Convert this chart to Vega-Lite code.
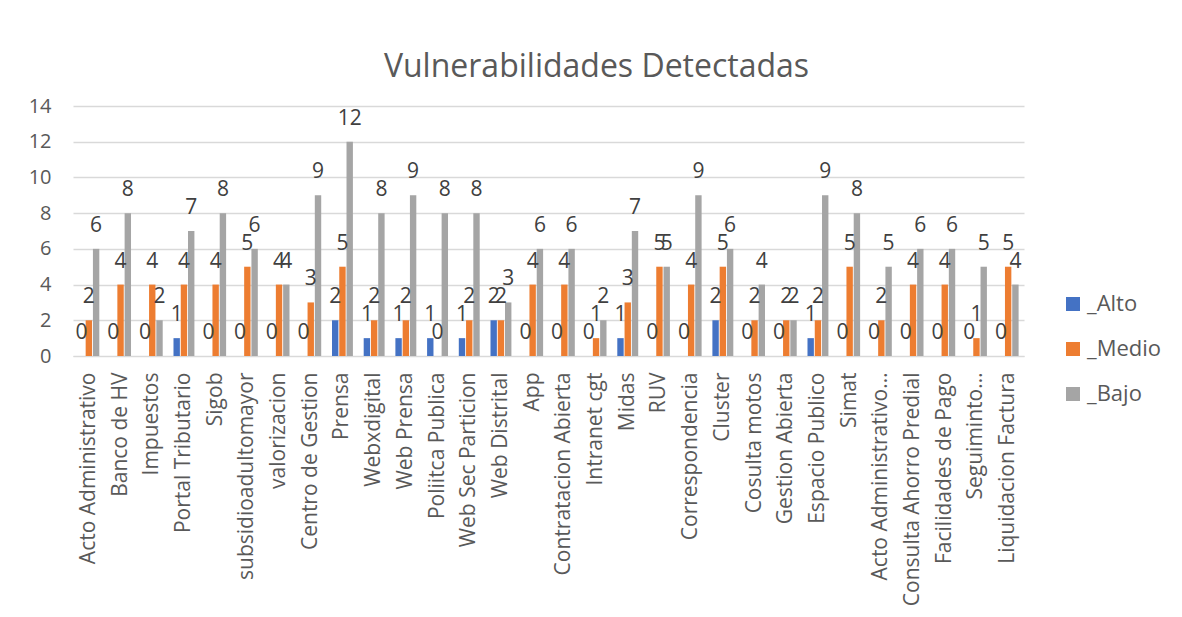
{
  "$schema": "https://vega.github.io/schema/vega-lite/v6.json",
  "width": 951,
  "height": 250,
  "autosize": {"type": "none"},
  "padding": {"left": 73, "top": 106, "right": 158, "bottom": 261},
  "background": "white",
  "title": {
    "text": "Vulnerabilidades Detectadas",
    "anchor": "middle",
    "fontSize": 32,
    "font": "Open Sans",
    "fontWeight": "normal",
    "color": "#595959",
    "offset": 12,
    "dx": 48
  },
  "config": {
    "view": {"stroke": null},
    "font": "Open Sans"
  },
  "datasets": {
    "raw": [
      {"name": "Acto Administrativo", "Alto": 0, "Medio": 2, "Bajo": 6},
      {"name": "Banco de HV", "Alto": 0, "Medio": 4, "Bajo": 8},
      {"name": "Impuestos", "Alto": 0, "Medio": 4, "Bajo": 2},
      {"name": "Portal Tributario", "Alto": 1, "Medio": 4, "Bajo": 7},
      {"name": "Sigob", "Alto": 0, "Medio": 4, "Bajo": 8},
      {"name": "subsidioadultomayor", "Alto": 0, "Medio": 5, "Bajo": 6},
      {"name": "valorizacion", "Alto": 0, "Medio": 4, "Bajo": 4},
      {"name": "Centro de Gestion", "Alto": 0, "Medio": 3, "Bajo": 9},
      {"name": "Prensa", "Alto": 2, "Medio": 5, "Bajo": 12},
      {"name": "Webxdigital", "Alto": 1, "Medio": 2, "Bajo": 8},
      {"name": "Web Prensa", "Alto": 1, "Medio": 2, "Bajo": 9},
      {"name": "Poliitca Publica", "Alto": 1, "Medio": 0, "Bajo": 8},
      {"name": "Web Sec Particion", "Alto": 1, "Medio": 2, "Bajo": 8},
      {"name": "Web Distrital", "Alto": 2, "Medio": 2, "Bajo": 3},
      {"name": "App", "Alto": 0, "Medio": 4, "Bajo": 6},
      {"name": "Contratacion Abierta", "Alto": 0, "Medio": 4, "Bajo": 6},
      {"name": "Intranet cgt", "Alto": 0, "Medio": 1, "Bajo": 2},
      {"name": "Midas", "Alto": 1, "Medio": 3, "Bajo": 7},
      {"name": "RUV", "Alto": 0, "Medio": 5, "Bajo": 5},
      {"name": "Correspondencia", "Alto": 0, "Medio": 4, "Bajo": 9},
      {"name": "Cluster", "Alto": 2, "Medio": 5, "Bajo": 6},
      {"name": "Cosulta motos", "Alto": 0, "Medio": 2, "Bajo": 4},
      {"name": "Gestion Abierta", "Alto": 0, "Medio": 2, "Bajo": 2},
      {"name": "Espacio Publico", "Alto": 1, "Medio": 2, "Bajo": 9},
      {"name": "Simat", "Alto": 0, "Medio": 5, "Bajo": 8},
      {"name": "Acto Administrativo…", "Alto": 0, "Medio": 2, "Bajo": 5},
      {"name": "Consulta Ahorro Predial", "Alto": 0, "Medio": 4, "Bajo": 6},
      {"name": "Facilidades de Pago", "Alto": 0, "Medio": 4, "Bajo": 6},
      {"name": "Seguiminto…", "Alto": 0, "Medio": 1, "Bajo": 5},
      {"name": "Liquidacion Factura", "Alto": 0, "Medio": 5, "Bajo": 4}
    ]
  },
  "data": {"name": "raw"},
  "transform": [
    {"fold": ["Alto", "Medio", "Bajo"], "as": ["key", "value"]},
    {"calculate": "'_' + datum.key", "as": "series"}
  ],
  "encoding": {
    "x": {
      "field": "name",
      "type": "nominal",
      "sort": null,
      "scale": {"paddingInner": 0.34, "paddingOuter": 0.17},
      "axis": {
        "title": null,
        "labelAngle": -90,
        "labelFontSize": 21,
        "labelColor": "#595959",
        "labelPadding": 16,
        "ticks": false,
        "domainColor": "#d9d9d9",
        "labelLimit": 300
      }
    },
    "xOffset": {
      "field": "series",
      "type": "nominal",
      "sort": ["_Alto", "_Medio", "_Bajo"],
      "scale": {"paddingInner": 0.12}
    },
    "y": {
      "field": "value",
      "type": "quantitative",
      "scale": {"domain": [0, 14]},
      "axis": {
        "title": null,
        "values": [0, 2, 4, 6, 8, 10, 12, 14],
        "labelFontSize": 20,
        "labelColor": "#595959",
        "labelPadding": 22,
        "ticks": false,
        "domain": false,
        "gridColor": "#d9d9d9",
        "gridWidth": 1.5
      }
    }
  },
  "layer": [
    {
      "mark": {"type": "bar"},
      "encoding": {
        "color": {
          "field": "series",
          "type": "nominal",
          "sort": ["_Alto", "_Medio", "_Bajo"],
          "scale": {"domain": ["_Alto", "_Medio", "_Bajo"], "range": ["#4472C4", "#ED7D31", "#A5A5A5"]},
          "legend": {
            "title": null,
            "orient": "none",
            "legendX": 989,
            "legendY": 187,
            "symbolType": "square",
            "symbolSize": 196,
            "symbolStrokeWidth": 0,
            "labelFontSize": 22,
            "labelColor": "#595959",
            "rowPadding": 23,
            "labelOffset": 3
          }
        }
      }
    },
    {
      "mark": {"type": "text", "dy": -17, "baseline": "alphabetic", "fontSize": 21, "color": "#404040"},
      "encoding": {
        "text": {"field": "value", "type": "quantitative"}
      }
    }
  ]
}
